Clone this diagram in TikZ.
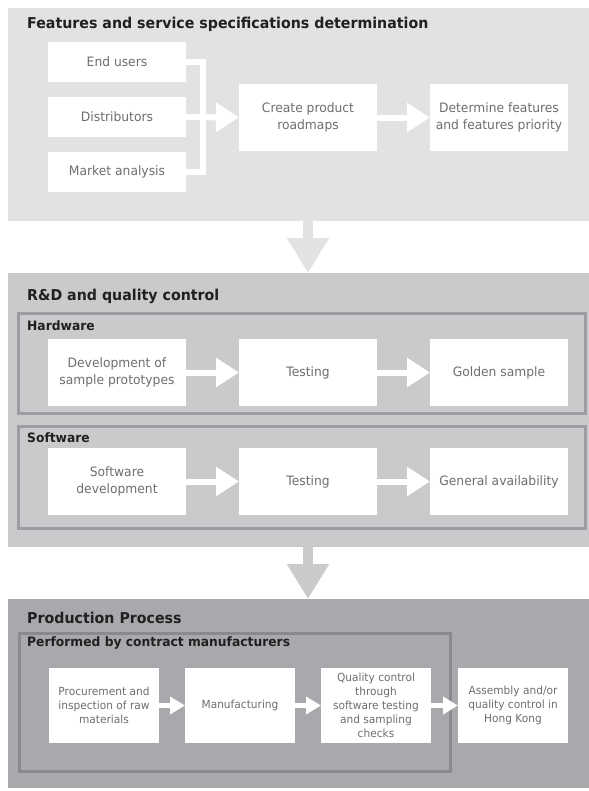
\documentclass[tikz,border=0pt]{standalone}
\usepackage{fontspec}
\setmainfont{DejaVu Sans}[FakeStretch=0.95]
\usetikzlibrary{arrows.meta}
\definecolor{paneone}{HTML}{E1E2E3}
\definecolor{panetwo}{HTML}{C9CACC}
\definecolor{panethree}{HTML}{A8A9AC}
\definecolor{frametwo}{HTML}{9C9DA0}
\definecolor{framethree}{HTML}{898A8D}
\definecolor{boxtext}{HTML}{6D6E71}
\definecolor{headtext}{HTML}{231F20}
\begin{document}
\begin{tikzpicture}
[x=1bp,y=-1bp,
  panedecorate/.style={shape=rectangle,inner sep=0pt,outer sep=0pt,minimum width=581bp},%
  framedecorate/.style={shape=rectangle,draw,line width=3bp,inner sep=0pt,outer sep=0pt},%
  boxdecorate/.style={shape=rectangle,fill=white,inner sep=0pt,outer sep=0pt,align=center,
    text=boxtext,minimum width=138bp,font=\fontsize{13}{17}\selectfont},%
  smallbox/.style={boxdecorate,minimum width=110bp,minimum height=75bp,
    font=\fontsize{11.2}{14.2}\selectfont},%
  titledecorate/.style={anchor=base west,inner sep=0pt,text=headtext,
    font=\fontsize{15}{18}\selectfont\bfseries},%
  labeldecorate/.style={titledecorate,font=\fontsize{13}{15}\selectfont\bfseries},%
  linkdecorate/.style={draw=white,line width=6bp},%
  arrowdecorate/.style={linkdecorate,-{Triangle[length=23bp,width=28bp]}},%
  smallarrow/.style={draw=white,line width=5bp,-{Triangle[length=15bp,width=17bp]}},%
  bigarrow/.style={line width=10bp,-{Triangle[length=35bp,width=40bp]}}]
\useasboundingbox (0,0) rectangle (589,791);
%% panels
\node (feat) at (298.5,114.5) [panedecorate,fill=paneone,minimum height=213bp] {};
\node (rd) at (298.5,410) [panedecorate,fill=panetwo,minimum height=274bp] {};
\node (prod) at (298.5,693.5) [panedecorate,fill=panethree,minimum height=189bp] {};
\node (feattitle) at (27,29) [titledecorate] {Features and service specifications determination};
\node (rdtitle) at (27,300) [titledecorate] {R\&D and quality control};
\node (prodtitle) at (27,623) [titledecorate] {Production Process};
%% frames
\node (hw) at (302,363.5) [framedecorate,draw=frametwo,minimum width=567bp,minimum height=100bp] {};
\node (sw) at (302,477.5) [framedecorate,draw=frametwo,minimum width=567bp,minimum height=102bp] {};
\node (cm) at (235,702.5) [framedecorate,draw=framethree,minimum width=431bp,minimum height=138bp] {};
\node (hwlabel) at (27,330) [labeldecorate] {Hardware};
\node (swlabel) at (27,442) [labeldecorate] {Software};
\node (cmlabel) at (27,646) [labeldecorate] {Performed by contract manufacturers};
%% boxes
\foreach \nodename/\x/\y/\txt in {end/117/62/End users, dist/117/117/Distributors,
  mkt/117/172/Market analysis} {
  \node (\nodename) at (\x,\y) [boxdecorate,minimum height=40bp] {\txt};
}
\foreach \nodename/\x/\y/\txt in {create/308/117.5/{Create product\\roadmaps},
  feature/499/117.5/{Determine features\\and features priority},
  proto/117/372.5/{Development of\\sample prototypes}, hwtest/308/372.5/Testing,
  golden/499/372.5/Golden sample,
  swdev/117/481.5/{Software\\development}, swtest/308/481.5/Testing,
  ga/499/481.5/General availability} {
  \node (\nodename) at (\x,\y) [boxdecorate,minimum height=67bp] {\txt};
}
\foreach \nodename/\x/\txt in {procure/104/{Procurement and\\inspection of raw\\materials},
  manuf/240/Manufacturing,
  qc/376/{Quality control\\through\\software testing\\and sampling\\checks},
  assembly/513/{Assembly and/or\\quality control in\\Hong Kong}} {
  \node (\nodename) at (\x,705.5) [smallbox] {\txt};
}
%% edges
\coordinate (join) at (203,117);
\draw[linkdecorate] (end.east) -| (join) |- (mkt.east);
\path
\foreach \startnode/\endnode in {dist/create, create/feature, proto/hwtest,
  hwtest/golden, swdev/swtest, swtest/ga} {
  (\startnode) edge[arrowdecorate] (\endnode)
};
\path
\foreach \startnode/\endnode in {procure/manuf, manuf/qc, qc/assembly} {
  (\startnode) edge[smallarrow] (\endnode)
};
%% arrows between panels
\draw[bigarrow,draw=paneone] (feat.south -| hwtest) -- (rd.north -| hwtest);
\draw[bigarrow,draw=panetwo] (rd.south -| swtest) -- (prod.north -| swtest);
\end{tikzpicture}
\end{document}
